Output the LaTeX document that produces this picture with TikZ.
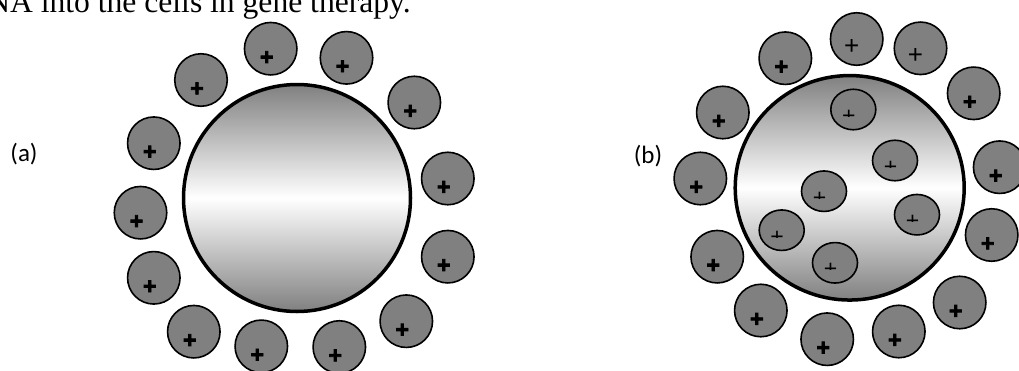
\documentclass[tikz,border=0pt]{standalone}
\usepackage{fontspec}
\setmainfont{Liberation Serif}
\newfontfamily\calfont{Carlito}
\newfontfamily\plusboldfam{Liberation Sans Bold}[FakeBold=3.5]
\newfontfamily\plusthinfam{Liberation Sans}
\usetikzlibrary{shapes.geometric}
\definecolor{ionfill}{HTML}{808080}
\definecolor{shadegray}{HTML}{808080}
\tikzset{
  ion/.style={circle, draw=black, line width=1.6pt, fill=ionfill, minimum size=52.5pt, inner sep=0pt},
  inion/.style={ellipse, draw=black, line width=1.6pt, fill=ionfill, minimum width=45pt, minimum height=40.5pt, inner sep=0pt},
  cellbody/.style={draw=black, line width=3.5pt, top color=shadegray, bottom color=shadegray, middle color=white, inner sep=0pt},
  boldplus/.style={anchor=base, inner sep=0pt, font=\plusboldfam\fontsize{23}{23}\selectfont},
  thinplus/.style={anchor=base, inner sep=0pt, font=\plusthinfam\fontsize{26}{26}\selectfont},
  minusplus/.style={anchor=base, inner sep=0pt, font=\plusthinfam\fontsize{23}{23}\selectfont},
  lbl/.style={inner sep=0pt, font=\calfont\fontsize{25}{30}\selectfont},
  titletext/.style={anchor=base east, inner sep=0pt, font=\fontsize{31.6}{36}\selectfont}
}
\begin{document}
\begin{tikzpicture}[x=1pt,y=-1pt]
\useasboundingbox (0,0) rectangle (1019,370);
\clip (0,0) rectangle (1019,370);

\node[titletext] (title) at (411,12) {NA into the cells in gene therapy.};

% ----- (a) -----
\node[lbl] (la) at (24,154) {(a)};
\node[cellbody, circle, minimum size=227pt] (A) at (297,198) {};
\foreach \i/\x/\y in {1/270.7/48.7, 2/346.5/57.8, 3/201/80, 4/414.3/102.5,
  5/153.8/143.2, 6/447.8/178.5, 7/140.5/212.7, 8/447.8/256.7, 9/153.8/277.8,
  10/406.3/321.2, 11/193.8/331.7, 12/261.3/346.3, 13/339.3/347}{
  \node[ion] (a\i) at (\x,\y) {};
  \node[boldplus] (pa\i) at ([shift={(-4,16.1)}]a\i.center) {+};
}

% ----- (b) -----
\node[lbl] (lb) at (648,156) {(b)};
\node[cellbody, ellipse, minimum width=229pt, minimum height=224.5pt] (B) at (849.7,187.8) {};
\foreach \i/\x/\y in {3/785.3/58.2, 4/973.7/93.3, 5/722.8/112.5, 6/999.7/167.2,
  7/700.3/178.5, 8/991.7/235, 9/717.2/256.7, 10/959.7/302.5, 11/760.8/310.5,
  12/898.8/331.5, 13/827.2/339.2}{
  \node[ion] (b\i) at (\x,\y) {};
  \node[boldplus] (pb\i) at ([shift={(-4,16.1)}]b\i.center) {+};
}
\foreach \i/\x/\y in {1/856.7/39, 2/920.5/48.3}{
  \node[ion] (b\i) at (\x,\y) {};
  \node[thinplus] (pb\i) at ([shift={(-5,15.2)}]b\i.center) {+};
}
\foreach \i/\x/\y in {1/853.3/109.5, 2/895/160.5, 3/824/191.2, 4/917/214.7,
  5/781.7/230.2, 6/835/262.8}{
  \node[inion] (c\i) at (\x,\y) {};
  \begin{scope}
    \clip ([shift={(-16,-6)}]c\i.center) rectangle ([shift={(8,7.1)}]c\i.center);
    \node[minusplus] (m\i) at ([shift={(-4.5,14.1)}]c\i.center) {+};
  \end{scope}
}
\end{tikzpicture}
\end{document}
